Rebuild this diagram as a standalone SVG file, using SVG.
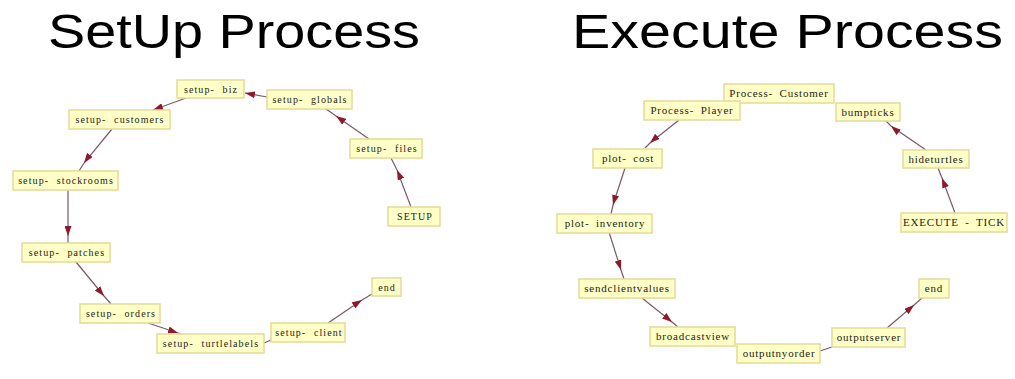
<svg xmlns="http://www.w3.org/2000/svg" width="1015" height="379" viewBox="0 0 1015 379">
<style>
.title{font-family:"Liberation Sans",Arial,sans-serif;font-size:49px;fill:#000}
.box{fill:#ffffc6;stroke:#e4da98;stroke-width:1.5}
.lbl{font-family:"Liberation Serif","Times New Roman",serif;font-size:10px;letter-spacing:1.1px;word-spacing:4px;fill:#222;text-anchor:middle}
.lbr{font-family:"Liberation Serif","Times New Roman",serif;font-size:11px;letter-spacing:0.8px;word-spacing:3px;fill:#222;text-anchor:middle}
.edge{fill:none;stroke:#7a5868;stroke-width:1.2}
.m{marker-mid:url(#ah)}
.e{marker-end:url(#ah)}
</style>
<defs>
<marker id="ah" markerUnits="userSpaceOnUse" markerWidth="10" markerHeight="7" refX="10" refY="3.5" orient="auto">
<path d="M0,0 L10,3.5 L0,7 z" fill="#8b1a2a"/>
</marker>
</defs>
<text class="title" x="48" y="48" textLength="372" lengthAdjust="spacingAndGlyphs">SetUp Process</text>
<text class="title" x="572" y="48" textLength="431" lengthAdjust="spacingAndGlyphs">Execute Process</text>
<g id="connectors">
<path class="edge m" d="M411,207 L397,170 L391,158"/>
<path class="edge m" d="M369,139 L336,116 L326,109"/>
<path class="edge e" d="M267,97 L245,93"/>
<path class="edge e" d="M186,98 L153,110"/>
<path class="edge m" d="M112,129 L84,163 L79,171"/>
<path class="edge m" d="M68,190 L68,236 L68,243"/>
<path class="edge m" d="M76,262 L104,296 L111,304"/>
<path class="edge m" d="M148,323 L178,333 L181,334"/>
<path class="edge" d="M264,343 L271,340"/>
<path class="edge m" d="M328,323 L362,300 L372,294"/>
<path class="edge m" d="M955,213 L942,178 L938,168"/>
<path class="edge m" d="M926,150 L891,126 L886,121"/>
<path class="edge m" d="M679,120 L650,143 L645,148"/>
<path class="edge m" d="M625,168 L613,205 L611,214"/>
<path class="edge m" d="M609,232 L621,270 L624,279"/>
<path class="edge m" d="M642,298 L672,322 L678,327"/>
<path class="edge" d="M820,351 L832,347"/>
<path class="edge m" d="M887,328 L914,305 L922,298"/>
</g>
<g id="setup-biz"><rect class="box" x="177" y="80" width="67" height="18"/><text class="lbl" x="211" y="93">setup- biz</text></g>
<g id="setup-customers"><rect class="box" x="69" y="110" width="101" height="19"/><text class="lbl" x="120" y="123">setup- customers</text></g>
<g id="setup-stockrooms"><rect class="box" x="13" y="171" width="105" height="19"/><text class="lbl" x="66" y="184">setup- stockrooms</text></g>
<g id="setup-globals"><rect class="box" x="267" y="90" width="85" height="19"/><text class="lbl" x="310" y="103">setup- globals</text></g>
<g id="setup-files"><rect class="box" x="350" y="139" width="72" height="19"/><text class="lbl" x="387" y="152">setup- files</text></g>
<g id="SETUP"><rect class="box" x="388" y="207" width="52" height="19"/><text class="lbl" x="415" y="220">SETUP</text></g>
<g id="setup-patches"><rect class="box" x="22" y="243" width="88" height="19"/><text class="lbl" x="67" y="256">setup- patches</text></g>
<g id="setup-orders"><rect class="box" x="80" y="304" width="80" height="19"/><text class="lbl" x="121" y="317">setup- orders</text></g>
<g id="setup-turtlelabels"><rect class="box" x="157" y="334" width="107" height="19"/><text class="lbl" x="211" y="347">setup- turtlelabels</text></g>
<g id="setup-client"><rect class="box" x="271" y="323" width="74" height="19"/><text class="lbl" x="309" y="336">setup- client</text></g>
<g id="end-setup"><rect class="box" x="372" y="278" width="29" height="18"/><text class="lbl" x="387" y="291">end</text></g>
<g id="Process-Customer"><rect class="box" x="724" y="84" width="110" height="19"/><text class="lbr" x="779" y="97">Process- Customer</text></g>
<g id="Process-Player"><rect class="box" x="644" y="101" width="96" height="19"/><text class="lbr" x="692" y="114">Process- Player</text></g>
<g id="bumpticks"><rect class="box" x="836" y="103" width="64" height="18"/><text class="lbr" x="868" y="116">bumpticks</text></g>
<g id="hideturtles"><rect class="box" x="903" y="150" width="66" height="18"/><text class="lbr" x="936" y="163">hideturtles</text></g>
<g id="EXECUTE-TICK"><rect class="box" x="901" y="213" width="106" height="19"/><text class="lbr" x="954" y="226">EXECUTE - TICK</text></g>
<g id="plot-cost"><rect class="box" x="593" y="149" width="69" height="19"/><text class="lbr" x="628" y="162">plot- cost</text></g>
<g id="plot-inventory"><rect class="box" x="557" y="214" width="95" height="19"/><text class="lbr" x="605" y="227">plot- inventory</text></g>
<g id="sendclientvalues"><rect class="box" x="579" y="279" width="96" height="19"/><text class="lbr" x="627" y="292">sendclientvalues</text></g>
<g id="broadcastview"><rect class="box" x="650" y="327" width="85" height="19"/><text class="lbr" x="693" y="340">broadcastview</text></g>
<g id="outputnyorder"><rect class="box" x="737" y="344" width="83" height="19"/><text class="lbr" x="779" y="357">outputnyorder</text></g>
<g id="outputserver"><rect class="box" x="832" y="328" width="73" height="19"/><text class="lbr" x="869" y="341">outputserver</text></g>
<g id="end-execute"><rect class="box" x="919" y="279" width="30" height="19"/><text class="lbr" x="934" y="292">end</text></g>
</svg>
